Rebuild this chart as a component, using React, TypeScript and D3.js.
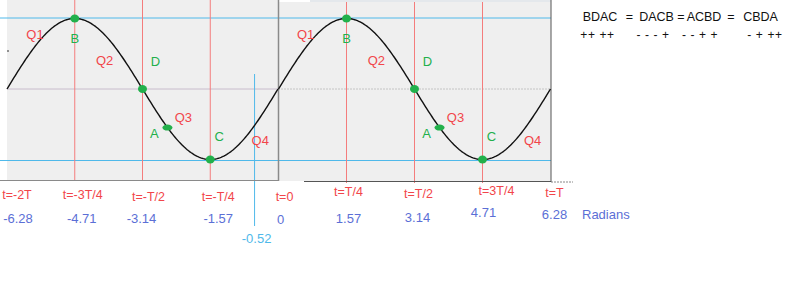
import React from "react";
import * as d3 from "d3";

const PI = Math.PI;
const leftDomain = [-2 * PI, 0];
const rightDomain = [0, 2 * PI];

const tLabelsLeft = ["t=-2T", "t=-3T/4", "t=-T/2", "t=-T/4"];
const tValuesLeft = [-2 * PI, -1.5 * PI, -PI, -0.5 * PI];
const tLabelsRight = ["t=0", "t=T/4", "t=T/2", "t=3T/4", "t=T"];
const tValuesRight = [0, 0.5 * PI, PI, 1.5 * PI, 2 * PI];
const radianLabelsLeft = ["-6.28", "-4.71", "-3.14", "-1.57"];
const radianLabelsRight = ["0", "1.57", "3.14", "4.71", "6.28"];

const redLineValues = [0.5 * PI, PI, 1.5 * PI];
const markerNames = ["B", "D", "A", "C"];
const markerPhases = [0.5 * PI, PI, 3.72, 1.5 * PI];
const quadrantNames = ["Q1", "Q2", "Q3", "Q4"];
const quadrantPhases = [0.17 * PI, 0.72 * PI, 1.25 * PI, 1.78 * PI];
const quadrantLevels = [0.77, 0.41, -0.41, -0.73];

const blueMark = -0.52;
const blueMarkLabel = "-0.52";

const legendWords = ["BDAC", "=", "DACB", "=", "ACBD", "=", "CBDA"];
const legendSigns = ["++ ++", "- - - +", "- - + +", "- + ++"];

const W = 800;
const H = 293;
const FONT = "Liberation Sans, Arial, sans-serif";
const RED = "#f2454a";
const REDLINE = "#f47c7c";
const GREEN = "#22b04b";
const BLUE = "#5b6fd6";
const LBLUE = "#4fb9ea";

export default function App() {
  const y = d3.scaleLinear().domain([-1, 1]).range([159.5, 18.5]);
  const xL = d3.scaleLinear().domain(leftDomain).range([7, 278]);
  const xR = d3.scaleLinear().domain(rightDomain).range([278.5, 550.5]);

  const samples = d3.range(0, 2 * PI + 0.001, 2 * PI / 200);
  const lineL = d3
    .line<number>()
    .x((t) => xL(t - 2 * PI))
    .y((t) => y(Math.sin(t)))(samples);
  const lineR = d3
    .line<number>()
    .x((t) => xR(t))
    .y((t) => y(Math.sin(t)))(samples);

  const panels = [
    { x: (p: number) => xL(p - 2 * PI), qdx: [5, 0, 7, 12] },
    { x: (p: number) => xR(p), qdx: [4, 0, 7, 12] },
  ];
  const ldx = [0, 13, -13, 9];
  const ldy = [21, -26, 7, -22];

  const legendX = [600, 629.5, 656.5, 681, 704, 731, 760.5];
  const signX = [597.5, 653, 700, 765];

  return (
    <svg
      width={W}
      height={H}
      style={{ position: "absolute", left: 0, top: 0, background: "#fff" }}
      fontFamily={FONT}
    >
      <rect x={7} y={0} width={271} height={180} fill="#efefef" />
      <rect x={278} y={2} width={273} height={179} fill="#efefef" />
      <rect x={310} y={0} width={241} height={2} fill="#e4e8ec" />
      <line x1={7} x2={278} y1={y(0)} y2={y(0)} stroke="#c8bccc" strokeWidth={1} />
      <line x1={278} x2={551} y1={y(0)} y2={y(0)} stroke="#c4c4c4" strokeWidth={1} strokeDasharray="2,1" />
      <line x1={0} x2={551} y1={y(1) - 0.5} y2={y(1) - 0.5} stroke={LBLUE} strokeWidth={1} />
      <line x1={0} x2={551} y1={y(-1) + 1} y2={y(-1) + 1} stroke={LBLUE} strokeWidth={1} />
      {redLineValues.map((p, i) => (
        <line key={"rl" + i} x1={xL(p - 2 * PI)} x2={xL(p - 2 * PI)} y1={0} y2={180} stroke={REDLINE} strokeWidth={1} />
      ))}
      {redLineValues.map((p, i) => (
        <line key={"rr" + i} x1={xR(p)} x2={xR(p)} y1={2} y2={183} stroke={REDLINE} strokeWidth={1} />
      ))}
      <line x1={xL(blueMark) - 1} x2={xL(blueMark) - 1} y1={74} y2={226} stroke={LBLUE} strokeWidth={1} />
      <line x1={0} x2={278} y1={180.5} y2={180.5} stroke="#8a8a8a" strokeWidth={1} />
      <line x1={278.5} x2={278.5} y1={0} y2={181} stroke="#8a8a8a" strokeWidth={1.5} />
      <line x1={304} x2={551} y1={181.5} y2={181.5} stroke="#555" strokeWidth={1} />
      <line x1={551} x2={573} y1={182} y2={182} stroke="#888" strokeWidth={1} strokeDasharray="2,1" />
      <line x1={551} x2={551} y1={0} y2={182} stroke="#555" strokeWidth={1} />
      <line x1={7} x2={9} y1={51} y2={51} stroke="#333" strokeWidth={1} />
      <path d={lineL ?? ""} fill="none" stroke="#111" strokeWidth={1.4} />
      <path d={lineR ?? ""} fill="none" stroke="#111" strokeWidth={1.4} />
      {panels.map((pn, pi) => (
        <g key={"pn" + pi}>
          {markerPhases.map((p, i) => (
            <ellipse
              key={"m" + i}
              cx={pn.x(p)}
              cy={y(Math.sin(p))}
              rx={i === 2 ? 5 : 4.5}
              ry={i === 2 ? 3 : 4}
              fill={GREEN}
            />
          ))}
          {markerNames.map((n, i) => {
            const p = markerPhases[i];
            return (
              <text
                key={"mn" + i}
                x={pn.x(p) + ldx[i]}
                y={y(Math.sin(p)) + ldy[i]}
                fill={GREEN}
                fontSize={13}
                textAnchor="middle"
                dominantBaseline="middle"
              >
                {n}
              </text>
            );
          })}
          {quadrantNames.map((q, i) => (
            <text
              key={"q" + i}
              x={pn.x(quadrantPhases[i]) + pn.qdx[i]}
              y={y(quadrantLevels[i]) + 1}
              fill={RED}
              fontSize={13}
              textAnchor="middle"
              dominantBaseline="middle"
            >
              {q}
            </text>
          ))}
        </g>
      ))}
      {tLabelsLeft.map((l, i) => (
        <text key={"tl" + i} x={xL(tValuesLeft[i]) + [10, 8, 6, 8][i]} y={[196, 196, 198, 198][i]} fill={RED} fontSize={12.5} textAnchor="middle" dominantBaseline="middle">
          {l}
        </text>
      ))}
      {tLabelsRight.map((l, i) => (
        <text key={"tr" + i} x={xR(tValuesRight[i]) + [6, 2, 4, 14, 4][i]} y={[198, 193, 195, 192, 194][i]} fill={RED} fontSize={12.5} textAnchor="middle" dominantBaseline="middle">
          {l}
        </text>
      ))}
      {radianLabelsLeft.map((l, i) => (
        <text key={"nl" + i} x={xL(tValuesLeft[i]) + [11, 7, -1, 8][i]} y={220} fill={BLUE} fontSize={13} textAnchor="middle" dominantBaseline="middle">
          {l}
        </text>
      ))}
      {radianLabelsRight.map((l, i) => (
        <text key={"nr" + i} x={xR(tValuesRight[i]) + [2, 2, 3, 1, 4][i]} y={[221, 220, 219, 214, 216][i]} fill={BLUE} fontSize={13} textAnchor="middle" dominantBaseline="middle">
          {l}
        </text>
      ))}
      <text x={582} y={216} fill={BLUE} fontSize={13} dominantBaseline="middle">
        Radians
      </text>
      <text x={xL(blueMark) + 1} y={240} fill={LBLUE} fontSize={13} textAnchor="middle" dominantBaseline="middle">
        {blueMarkLabel}
      </text>
      {legendWords.map((w, i) => (
        <text key={"lw" + i} x={legendX[i]} y={18} fill="#111" fontSize={12.5} textAnchor="middle" dominantBaseline="middle">
          {w}
        </text>
      ))}
      {legendSigns.map((s, i) => (
        <text key={"ls" + i} x={signX[i]} y={36} fill="#111" fontSize={12} letterSpacing={0.6} textAnchor="middle" dominantBaseline="middle" style={{ whiteSpace: "pre" }}>
          {s}
        </text>
      ))}
    </svg>
  );
}
